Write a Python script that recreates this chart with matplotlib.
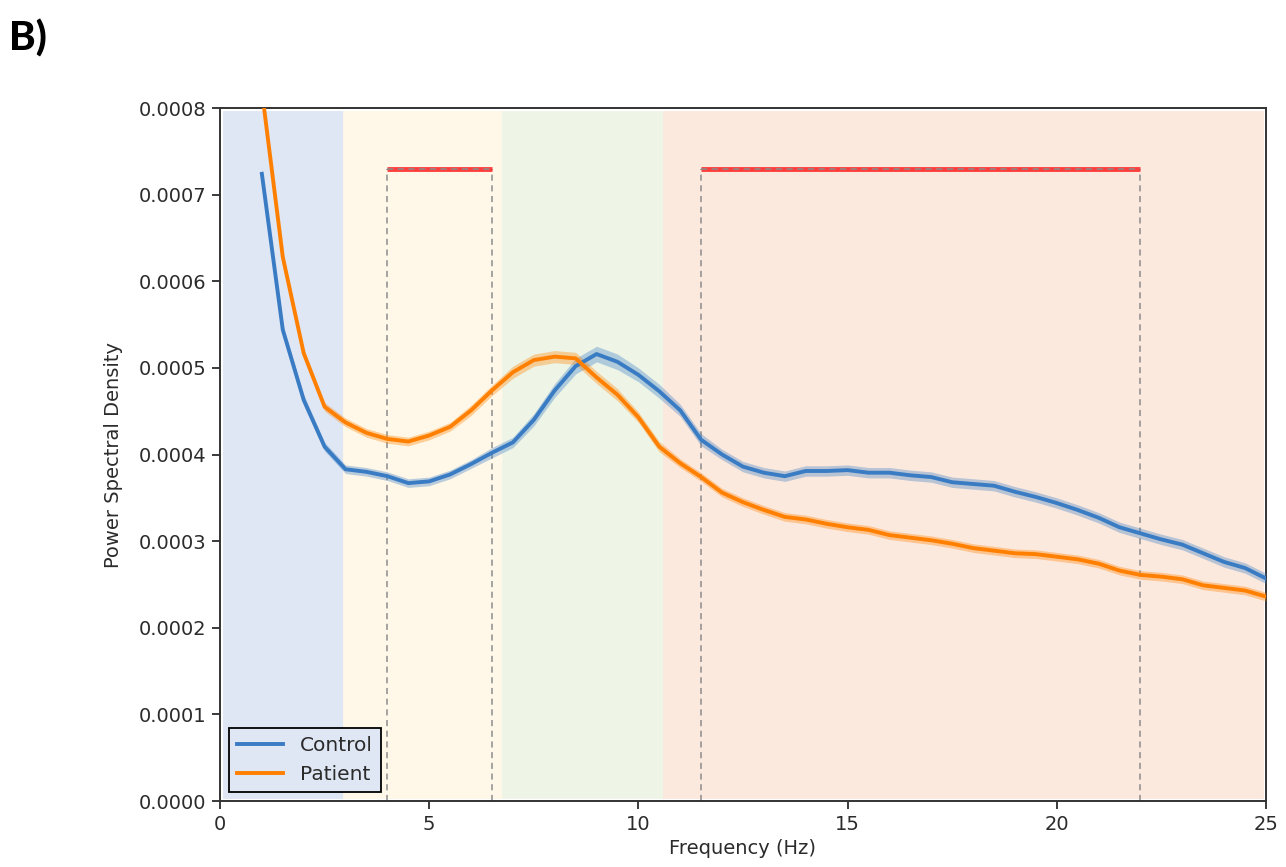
import numpy as np
import matplotlib.pyplot as plt

# frequency bins (Hz)
freqs = np.arange(1.0, 25.01, 0.5)

# mean power spectral density per group
control_psd = [
    0.000724, 0.000544, 0.000463, 0.000409, 0.000383, 0.000380, 0.000375,
    0.000367, 0.000369, 0.000377, 0.000389, 0.000402, 0.000414, 0.000440,
    0.000474, 0.000502, 0.000516, 0.000507, 0.000492, 0.000473, 0.000451,
    0.000417, 0.000400, 0.000386, 0.000379, 0.000375, 0.000381, 0.000381,
    0.000382, 0.000379, 0.000379, 0.000376, 0.000374, 0.000368, 0.000366,
    0.000364, 0.000357, 0.000351, 0.000344, 0.000336, 0.000327, 0.000316,
    0.000309, 0.000302, 0.000296, 0.000286, 0.000276, 0.000269, 0.000257,
]
patient_psd = [
    0.000820, 0.000628, 0.000517, 0.000455, 0.000437, 0.000425, 0.000418,
    0.000415, 0.000422, 0.000432, 0.000451, 0.000474, 0.000495, 0.000509,
    0.000513, 0.000511, 0.000489, 0.000469, 0.000443, 0.000409, 0.000390,
    0.000374, 0.000356, 0.000345, 0.000336, 0.000328, 0.000325, 0.000320,
    0.000316, 0.000313, 0.000307, 0.000304, 0.000301, 0.000297, 0.000292,
    0.000289, 0.000286, 0.000285, 0.000282, 0.000279, 0.000274, 0.000266,
    0.000261, 0.000259, 0.000256, 0.000249, 0.000246, 0.000243, 0.000236,
]
# standard error of the mean
control_sem = [
    0.000006, 0.000006, 0.000006, 0.000005, 0.000005, 0.000005, 0.000005,
    0.000005, 0.000005, 0.000005, 0.000005, 0.000006, 0.000006, 0.000007,
    0.000008, 0.000009, 0.000009, 0.000009, 0.000008, 0.000008, 0.000007,
    0.000007, 0.000006, 0.000006, 0.000006, 0.000006, 0.000006, 0.000006,
    0.000006, 0.000006, 0.000006, 0.000006, 0.000006, 0.000006, 0.000006,
    0.000006, 0.000006, 0.000006, 0.000006, 0.000006, 0.000006, 0.000006,
    0.000006, 0.000006, 0.000006, 0.000006, 0.000006, 0.000006, 0.000006,
]
patient_sem = [
    0.000005, 0.000005, 0.000005, 0.000005, 0.000005, 0.000005, 0.000005,
    0.000005, 0.000005, 0.000005, 0.000006, 0.000006, 0.000007, 0.000007,
    0.000007, 0.000007, 0.000007, 0.000007, 0.000006, 0.000006, 0.000005,
    0.000005, 0.000005, 0.000005, 0.000005, 0.000005, 0.000005, 0.000005,
    0.000005, 0.000005, 0.000005, 0.000005, 0.000005, 0.000005, 0.000005,
    0.000005, 0.000005, 0.000005, 0.000005, 0.000005, 0.000005, 0.000005,
    0.000005, 0.000005, 0.000005, 0.000005, 0.000005, 0.000005, 0.000005,
]

# frequency bands (delta, theta, alpha, beta)
band_edges = [0.07, 2.95, 6.75, 10.6, 24.93]
band_colors = ['#dfe6f4', '#fff8e8', '#eef5e7', '#fce9de']

# clusters of significant difference
sig_ranges = [(4.0, 6.5), (11.5, 22.0)]
sig_level = 0.00073

control_color = '#3a7cc4'
patient_color = '#ff8000'

fig = plt.figure(figsize=(12.86, 8.67), dpi=100)
ax = fig.add_axes([0.1711, 0.0761, 0.8133, 0.7993])

for i, c in enumerate(band_colors):
    ax.axvspan(band_edges[i], band_edges[i + 1], ymin=0.004, ymax=0.995,
               facecolor=c, edgecolor=c, lw=0.6, zorder=0)

for lo, hi in sig_ranges:
    ax.vlines([lo, hi], 0, sig_level, colors='#8c8c8c', linestyles=(0, (4, 3)),
              lw=1.1, zorder=1)
    ax.hlines(sig_level, lo, hi, colors='#ff2020', lw=3.5, alpha=0.85, zorder=2)
    ax.hlines(sig_level, lo, hi, colors='#8c8c8c', linestyles=(0, (4, 3)),
              lw=1.1, zorder=3)

control_psd = np.array(control_psd)
patient_psd = np.array(patient_psd)
control_sem = np.array(control_sem)
patient_sem = np.array(patient_sem)

ax.fill_between(freqs, control_psd - control_sem, control_psd + control_sem,
                color=control_color, alpha=0.35, lw=0, zorder=4)
ax.plot(freqs, control_psd, color=control_color, lw=2.8, label='Control', zorder=5)
ax.fill_between(freqs, patient_psd - patient_sem, patient_psd + patient_sem,
                color=patient_color, alpha=0.35, lw=0, zorder=4)
ax.plot(freqs, patient_psd, color=patient_color, lw=2.8, label='Patient', zorder=5)

ax.set_xlim(0, 25)
ax.set_ylim(0, 0.0008)
ax.set_xticks(range(0, 26, 5))
ax.set_yticks(np.arange(0, 0.00081, 0.0001))
ax.yaxis.set_major_formatter(plt.FormatStrFormatter('%.4f'))
ax.tick_params(labelsize=14, length=6, width=1.3, pad=4, colors='#2b2b2b')
for s in ax.spines.values():
    s.set_linewidth(1.4)
    s.set_color('#333333')

ax.set_xlabel('Frequency (Hz)', fontsize=14, color='#2b2b2b', labelpad=4)
ax.set_ylabel('Power Spectral Density', fontsize=14, color='#2b2b2b', labelpad=11)

leg = ax.legend(loc='lower left', fontsize=14.5, fancybox=False, framealpha=1,
                edgecolor='black', borderaxespad=0.45, handlelength=2.3)
leg.get_frame().set_facecolor('#dfe6f4')
leg.get_frame().set_linewidth(1.3)
for t in leg.get_texts():
    t.set_color('#2b2b2b')

fig.text(0.007, 0.978, 'B)', fontsize=29, fontweight='black', family='Lato',
         va='top', ha='left')

fig.savefig('out.png', dpi=100)
